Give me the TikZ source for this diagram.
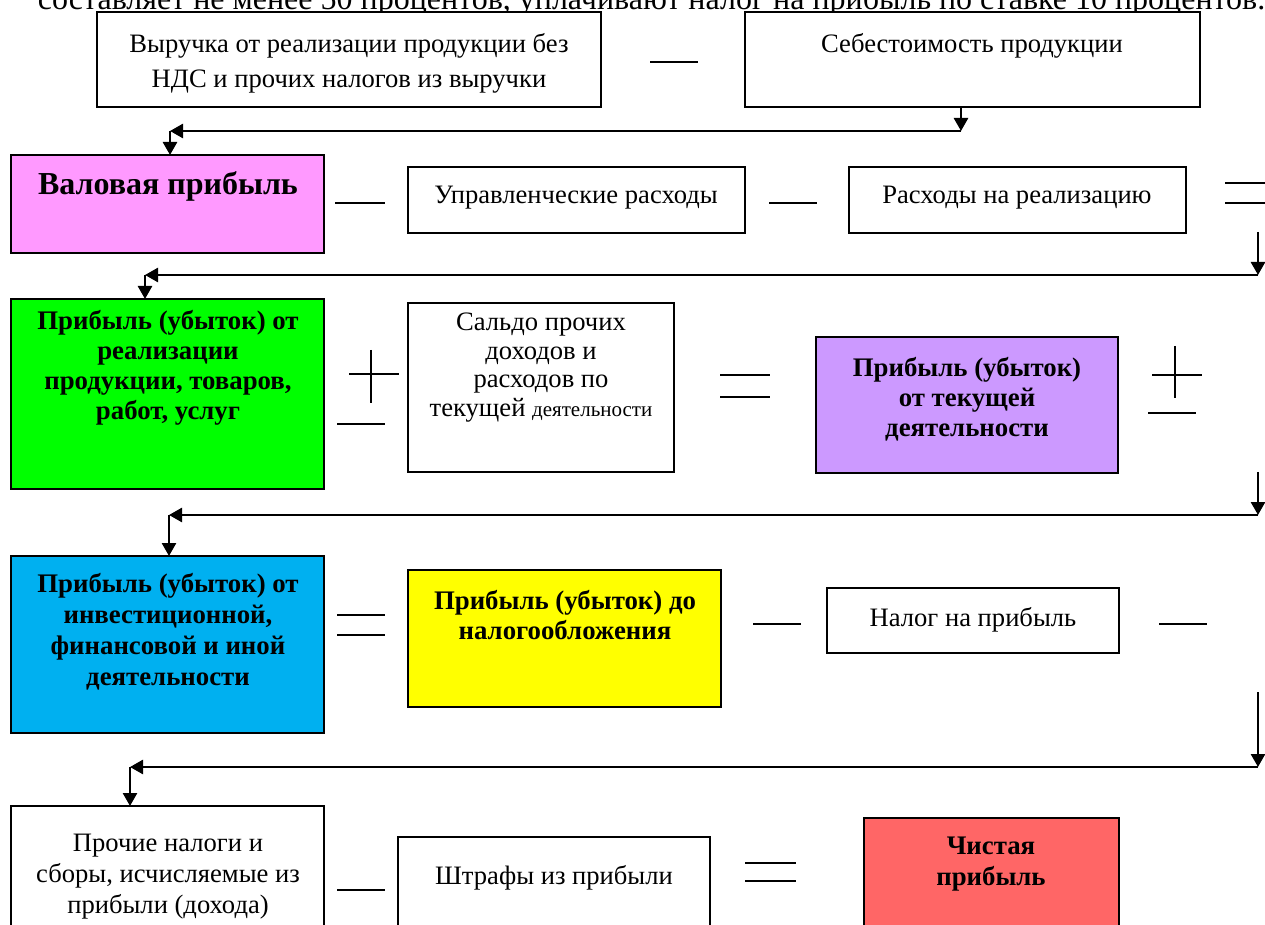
\documentclass[tikz,border=0pt]{standalone}
\usepackage{fontspec}
\setmainfont{Liberation Serif}
\usetikzlibrary{arrows.meta,calc}
\definecolor{cpink}{HTML}{FF99FF}
\definecolor{cgreen}{HTML}{00FF00}
\definecolor{cpurple}{HTML}{CC99FF}
\definecolor{cblue}{HTML}{00B0F0}
\definecolor{cyellow}{HTML}{FFFF00}
\definecolor{cred}{HTML}{FF6666}
\begin{document}
\begin{tikzpicture}[x=0.5pt,y=-0.5pt,
  box/.style={draw=black,line width=1pt,fill=white,anchor=north west,inner sep=0pt,outer sep=0pt},
  txt/.style={inner sep=0pt,outer sep=0pt,align=center,font=\fontsize{13.3}{15}\selectfont},
  btxt/.style={txt,font=\fontsize{13.4}{15}\selectfont\bfseries},
  op/.style={line width=1pt},
  arr/.style={line width=1.3pt,-{Triangle[length=6.5pt,width=7pt]}}]
\useasboundingbox (0,0) rectangle (1265,925);
\clip (0,0) rectangle (1265,925);
% top (cut) text line
\node[txt,anchor=base west,font=\fontsize{16}{18}\selectfont] (toptxt) at (38,9.5) {составляет не менее 50 процентов, уплачивают налог на прибыль по ставке 10 процентов.};
% boxes
\node[box,minimum width=252pt,minimum height=47.5pt] (b1) at (97,12) {};
\node[box,minimum width=227.5pt,minimum height=47.5pt] (b2) at (745,12) {};
\node[box,fill=cpink,minimum width=156.5pt,minimum height=49pt] (b3) at (11,155) {};
\node[box,minimum width=168.5pt,minimum height=33pt] (b4) at (408,167) {};
\node[box,minimum width=168.5pt,minimum height=33pt] (b5) at (849,167) {};
\node[box,fill=cgreen,minimum width=156.5pt,minimum height=95pt] (b6) at (11,299) {};
\node[box,minimum width=133pt,minimum height=84.5pt] (b7) at (408,303) {};
\node[box,fill=cpurple,minimum width=151pt,minimum height=68pt] (b8) at (816,337) {};
\node[box,fill=cblue,minimum width=156.5pt,minimum height=88.5pt] (b9) at (11,556) {};
\node[box,fill=cyellow,minimum width=156.5pt,minimum height=68.5pt] (b10) at (408,570) {};
\node[box,minimum width=146pt,minimum height=32.5pt] (b11) at (827,588) {};
\node[box,minimum width=156.5pt,minimum height=67pt] (b12) at (11,806) {};
\node[box,minimum width=156pt,minimum height=51.5pt] (b13) at (398,837) {};
\node[box,fill=cred,minimum width=127.5pt,minimum height=61pt] (b14) at (864,818) {};
% texts
\node[txt,anchor=north,font=\fontsize{13.3}{17.5}\selectfont] (t1) at (349,33) {Выручка от реализации продукции без\\НДС и прочих налогов из выручки};
\node[txt,anchor=north] (t2) at (972,33) {Себестоимость продукции};
\node[btxt,anchor=north,font=\fontsize{16}{18}\selectfont\bfseries] (t3) at (168,172) {Валовая прибыль};
\node[txt,anchor=north] (t4) at (576,186) {Управленческие расходы};
\node[txt,anchor=north] (t5) at (1017,186) {Расходы на реализацию};
\node[btxt,anchor=north] (t6) at (168,310) {Прибыль (убыток) от\\реализации\\продукции, товаров,\\работ, услуг};
\node[txt,anchor=north,font=\fontsize{13.3}{14.3}\selectfont] (t7) at (541,313) {Сальдо прочих\\доходов и\\расходов по\\текущей {\fontsize{10.5}{14}\selectfont деятельности}};
\node[btxt,anchor=north] (t8) at (967,357) {Прибыль (убыток)\\от текущей\\деятельности};
\node[btxt,anchor=north,font=\fontsize{13.4}{15.5}\selectfont\bfseries] (t9) at (168,573) {Прибыль (убыток) от\\инвестиционной,\\финансовой и иной\\деятельности};
\node[btxt,anchor=north] (t10) at (565,590) {Прибыль (убыток) до\\налогообложения};
\node[txt,anchor=north] (t11) at (973,607) {Налог на прибыль};
\node[txt,anchor=north,font=\fontsize{13.3}{15.5}\selectfont] (t12) at (168,834) {Прочие налоги и\\сборы, исчисляемые из\\прибыли (дохода)};
\node[txt,anchor=north] (t13) at (554,865) {Штрафы из прибыли};
\node[btxt,anchor=north,font=\fontsize{13.4}{15.5}\selectfont\bfseries] (t14) at (991,837) {Чистая\\прибыль};
% operators
\draw[op,line width=1.3pt] (650,62) -- (698,62);
\draw[op] (335,203) -- (385,203);
\draw[op] (769,203) -- (817,203);
\draw[op] (1225,183) -- (1270,183) (1225,203) -- (1270,203);
\draw[op] (349,374) -- (399,374) (371,350) -- (371,403);
\draw[op] (337,424) -- (385,424);
\draw[op] (720,375) -- (770,375) (720,397) -- (770,397);
\draw[op] (1152,375) -- (1202,375) (1175,346) -- (1175,398) (1148,413) -- (1196,413);
\draw[op] (337,615) -- (385,615) (337,635) -- (385,635);
\draw[op] (753,624) -- (801,624);
\draw[op] (1159,624) -- (1207,624);
\draw[op] (337,890) -- (385,890);
\draw[op] (745,863) -- (796,863) (745,881) -- (796,881);
% connectors
\coordinate (c1) at (961,131);
\coordinate (c1l) at (170,131);
\draw[arr] (b2.south -| c1) -- (c1);
\draw[arr] (c1) -- (c1l);
\draw[arr] (c1l) -- (b3.north -| c1l);
\coordinate (s2) at (1258,232);
\coordinate (c2) at (1258,275);
\coordinate (c2l) at (145,275);
\draw[arr] (s2) -- (c2);
\draw[arr] (c2) -- (c2l);
\draw[arr] (c2l) -- (b6.north -| c2l);
\coordinate (s3) at (1258,472);
\coordinate (c3) at (1258,515);
\coordinate (c3l) at (169,515);
\draw[arr] (s3) -- (c3);
\draw[arr] (c3) -- (c3l);
\draw[arr] (c3l) -- (b9.north -| c3l);
\coordinate (s4) at (1258,692);
\coordinate (c4) at (1258,767);
\coordinate (c4l) at (130,767);
\draw[arr] (s4) -- (c4);
\draw[arr] (c4) -- (c4l);
\draw[arr] (c4l) -- (b12.north -| c4l);
\end{tikzpicture}
\end{document}
